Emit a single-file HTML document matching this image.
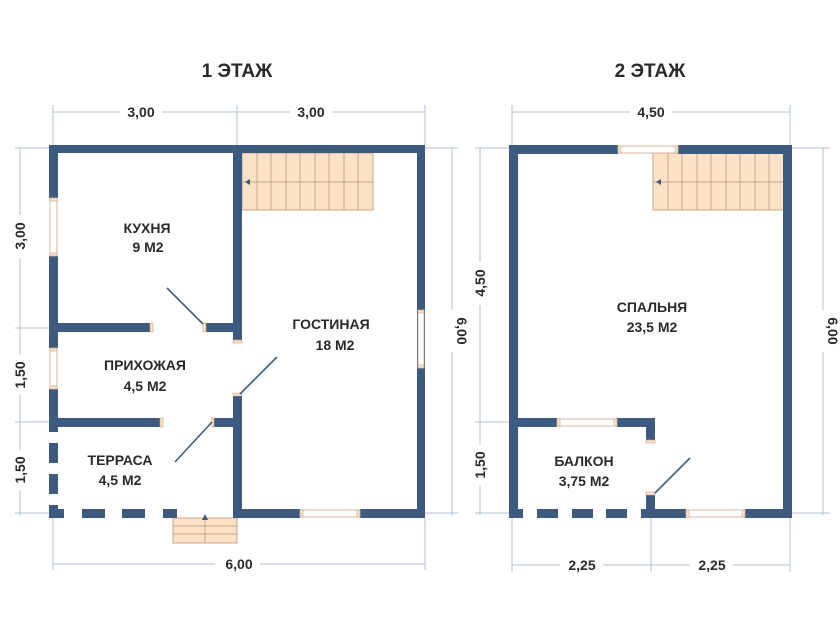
<!DOCTYPE html>
<html><head><meta charset="utf-8"><style>
html,body{margin:0;padding:0;background:#fff;width:840px;height:630px;overflow:hidden}
text{font-family:"Liberation Sans",sans-serif;fill:#2a2a2a;font-weight:bold}
</style></head><body>
<svg width="840" height="630" viewBox="0 0 840 630" xmlns="http://www.w3.org/2000/svg">
<g stroke="#b3c0d0" stroke-width="1" fill="none">
<!-- floor1 dims -->
<line x1="53" y1="112" x2="120" y2="112"/><line x1="162" y1="112" x2="290" y2="112"/><line x1="332" y1="112" x2="425" y2="112"/>
<line x1="53" y1="105" x2="53" y2="145"/><line x1="237" y1="105" x2="237" y2="145"/><line x1="425" y1="105" x2="425" y2="145"/>
<line x1="20" y1="148" x2="20" y2="215"/><line x1="20" y1="258" x2="20" y2="355"/><line x1="20" y1="395" x2="20" y2="450"/><line x1="20" y1="490" x2="20" y2="515"/>
<line x1="15" y1="148" x2="50" y2="148"/><line x1="15" y1="328" x2="50" y2="328"/><line x1="15" y1="422" x2="50" y2="422"/><line x1="15" y1="513" x2="50" y2="513"/>
<line x1="452" y1="148" x2="452" y2="310"/><line x1="452" y1="352" x2="452" y2="515"/>
<line x1="425" y1="148" x2="458" y2="148"/><line x1="425" y1="513" x2="458" y2="513"/>
<line x1="53" y1="564" x2="215" y2="564"/><line x1="260" y1="564" x2="425" y2="564"/>
<line x1="53" y1="518" x2="53" y2="570"/><line x1="425" y1="518" x2="425" y2="570"/>
<!-- floor2 dims -->
<line x1="512" y1="112" x2="630" y2="112"/><line x1="672" y1="112" x2="790" y2="112"/>
<line x1="512" y1="105" x2="512" y2="145"/><line x1="790" y1="105" x2="790" y2="145"/>
<line x1="480" y1="148" x2="480" y2="262"/><line x1="480" y1="305" x2="480" y2="445"/><line x1="480" y1="485" x2="480" y2="515"/>
<line x1="475" y1="148" x2="509" y2="148"/><line x1="475" y1="422" x2="509" y2="422"/><line x1="475" y1="513" x2="509" y2="513"/>
<line x1="823" y1="148" x2="823" y2="310"/><line x1="823" y1="352" x2="823" y2="515"/>
<line x1="792" y1="148" x2="830" y2="148"/><line x1="792" y1="513" x2="830" y2="513"/>
<line x1="512" y1="565" x2="560" y2="565"/><line x1="603" y1="565" x2="690" y2="565"/><line x1="733" y1="565" x2="790" y2="565"/>
<line x1="512" y1="518" x2="512" y2="572"/><line x1="651" y1="518" x2="651" y2="572"/><line x1="790" y1="518" x2="790" y2="572"/>
</g>
<text x="237" y="77" font-size="19" text-anchor="middle">1 ЭТАЖ</text>
<text x="650" y="77" font-size="19" text-anchor="middle">2 ЭТАЖ</text>
<g font-size="14" text-anchor="middle">
<text x="141" y="117">3,00</text><text x="311" y="117">3,00</text>
<text x="239" y="569">6,00</text>
<text x="651" y="117">4,50</text>
<text x="582" y="570">2,25</text><text x="712" y="570">2,25</text>
<text transform="translate(25,236) rotate(-90)">3,00</text>
<text transform="translate(25,375) rotate(-90)">1,50</text>
<text transform="translate(25,470) rotate(-90)">1,50</text>
<text transform="translate(457,331) rotate(90)">6,00</text>
<text transform="translate(485,283) rotate(-90)">4,50</text>
<text transform="translate(485,465) rotate(-90)">1,50</text>
<text transform="translate(828,331) rotate(90)">6,00</text>
</g>
<!-- stairs -->
<g fill="#fbe2c6" stroke="#c8a68a" stroke-width="1">
<rect x="242" y="153" width="131" height="57"/>
<rect x="653" y="153" width="131" height="57"/>
<rect x="173" y="518" width="64" height="25"/>
</g>
<g stroke="#c8a68a" stroke-width="1">
<line x1="242" y1="182" x2="373" y2="182"/><line x1="653" y1="182" x2="784" y2="182"/>
<line x1="257" y1="153" x2="257" y2="210"/><line x1="271" y1="153" x2="271" y2="210"/><line x1="286" y1="153" x2="286" y2="210"/><line x1="300" y1="153" x2="300" y2="210"/><line x1="315" y1="153" x2="315" y2="210"/><line x1="329" y1="153" x2="329" y2="210"/><line x1="344" y1="153" x2="344" y2="210"/><line x1="358" y1="153" x2="358" y2="210"/>
<line x1="668" y1="153" x2="668" y2="210"/><line x1="682" y1="153" x2="682" y2="210"/><line x1="697" y1="153" x2="697" y2="210"/><line x1="711" y1="153" x2="711" y2="210"/><line x1="726" y1="153" x2="726" y2="210"/><line x1="740" y1="153" x2="740" y2="210"/><line x1="755" y1="153" x2="755" y2="210"/><line x1="769" y1="153" x2="769" y2="210"/>
<line x1="173" y1="526" x2="237" y2="526"/><line x1="173" y1="534" x2="237" y2="534"/><line x1="205" y1="518" x2="205" y2="543"/>
</g>
<g fill="#3d5a80">
<polygon points="245,182 250,179 250,185"/><polygon points="656,182 661,179 661,185"/><polygon points="205,514 202,520 208,520"/>
<!-- floor1 walls -->
<rect x="49" y="145" width="376" height="8"/>
<rect x="417" y="145" width="8" height="373"/>
<rect x="49" y="145" width="9" height="53"/><rect x="49" y="256" width="9" height="92"/><rect x="49" y="389" width="9" height="43"/>
<rect x="49" y="443" width="9" height="20"/><rect x="49" y="474" width="9" height="20"/><rect x="49" y="505" width="9" height="13"/>
<rect x="49" y="509" width="15" height="9"/><rect x="82" y="509" width="23" height="9"/><rect x="122" y="509" width="23" height="9"/><rect x="163" y="509" width="14" height="9"/>
<rect x="233" y="509" width="67" height="9"/><rect x="360" y="509" width="65" height="9"/>
<rect x="233" y="145" width="9" height="198"/><rect x="233" y="393" width="9" height="125"/>
<rect x="58" y="323" width="95" height="9"/><rect x="203" y="323" width="30" height="9"/>
<rect x="58" y="418" width="105" height="9"/><rect x="211" y="418" width="22" height="9"/>
<rect x="417" y="145" width="8" height="165"/>
<!-- floor2 walls -->
<rect x="509" y="145" width="109" height="9"/><rect x="678" y="145" width="114" height="9"/>
<rect x="783" y="145" width="9" height="373"/>
<rect x="509" y="145" width="9" height="373"/>
<rect x="509" y="509" width="14" height="9"/><rect x="537" y="509" width="21" height="9"/><rect x="572" y="509" width="21" height="9"/><rect x="606" y="509" width="21" height="9"/>
<rect x="641" y="509" width="45" height="9"/><rect x="745" y="509" width="47" height="9"/>
<rect x="646" y="492" width="9" height="26"/>
<rect x="518" y="418" width="39" height="9"/><rect x="617" y="418" width="38" height="9"/><rect x="646" y="418" width="9" height="25"/>
</g>
<!-- windows -->
<g fill="#fff" stroke="#c8a68a" stroke-width="0.8">
<rect x="50" y="198" width="7" height="58"/><rect x="50" y="348" width="7" height="41"/><rect x="418" y="310" width="6" height="58"/>
<rect x="300" y="510" width="60" height="7"/>
<rect x="618" y="146" width="60" height="7"/><rect x="557" y="419" width="60" height="7"/><rect x="686" y="510" width="59" height="7"/>
</g>
<g fill="#fbe2c6" stroke="#c8a68a" stroke-width="0.6">
<rect x="50" y="198" width="7" height="3"/><rect x="50" y="253" width="7" height="3"/><rect x="50" y="348" width="7" height="3"/><rect x="50" y="386" width="7" height="3"/>
<rect x="418" y="310" width="6" height="3"/><rect x="418" y="365" width="6" height="3"/>
<rect x="300" y="510" width="3" height="7"/><rect x="357" y="510" width="3" height="7"/>
<rect x="618" y="146" width="3" height="7"/><rect x="675" y="146" width="3" height="7"/>
<rect x="557" y="419" width="3" height="7"/><rect x="614" y="419" width="3" height="7"/>
<rect x="686" y="510" width="3" height="7"/><rect x="742" y="510" width="3" height="7"/>
<rect x="150" y="323" width="3" height="9"/><rect x="203" y="323" width="3" height="9"/><rect x="233" y="340" width="9" height="3"/><rect x="233" y="393" width="9" height="3"/>
<rect x="160" y="418" width="3" height="9"/><rect x="211" y="418" width="3" height="9"/>
<rect x="646" y="440" width="9" height="3"/><rect x="646" y="492" width="9" height="3"/>
</g>
<g stroke="#3d5a80" stroke-width="1.6">
<line x1="167" y1="288" x2="203" y2="324"/><line x1="240" y1="394" x2="277" y2="357"/>
<line x1="175" y1="462" x2="212" y2="422"/><line x1="655" y1="493" x2="690" y2="458"/>
</g>
<g font-size="14" text-anchor="middle">
<text x="147" y="233">КУХНЯ</text><text x="148" y="252">9 М2</text>
<text x="331" y="329">ГОСТИНАЯ</text><text x="335" y="350">18 М2</text>
<text x="145" y="370">ПРИХОЖАЯ</text><text x="145" y="391">4,5 М2</text>
<text x="120" y="465">ТЕРРАСА</text><text x="120" y="485">4,5 М2</text>
<text x="652" y="312">СПАЛЬНЯ</text><text x="652" y="332">23,5 М2</text>
<text x="584" y="466">БАЛКОН</text><text x="584" y="486">3,75 М2</text>
</g>
</svg>
</body></html>
